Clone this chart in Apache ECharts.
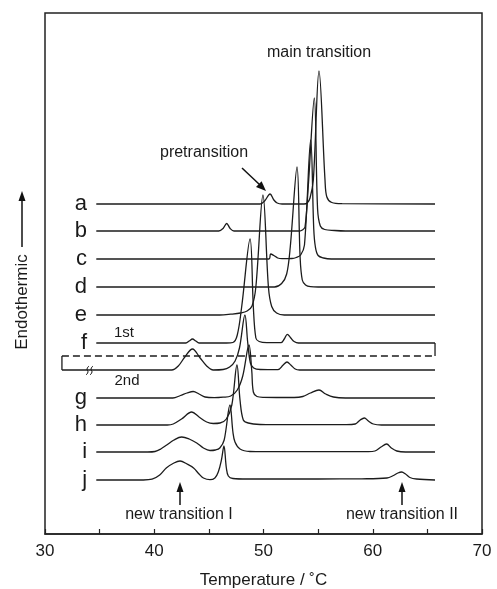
<!DOCTYPE html>
<html>
<head>
<meta charset="utf-8">
<script src="https://cdn.jsdelivr.net/npm/echarts@6/dist/echarts.min.js"></script>
<style>
  html, body { margin: 0; padding: 0; background: #fff; }
  #main { width: 497px; height: 589px; }
</style>
</head>
<body>
<div id="main"></div>
<script>
// x = temperature (°C), y = height above each trace's own baseline (arbitrary units, 1 unit ~ 1 px)
var curveNames = ['a', 'b', 'c', 'd', 'e', 'f', '', 'g', 'h', 'i', 'j'];
// baseline offset of each trace on the stacked plot
var offsets = [330, 303, 275, 247, 219, 191, 164, 136, 109, 82, 54];
var dashLevel = 178;

var curveA = [[34.7,0],[49.7,0],[50.1,3],[50.6,10],[50.95,4],[51.25,1],[51.7,0],[53.7,0],[54.0,1],[54.26,6],[54.56,24],[55.08,133],[55.63,24],[55.8,7],[56.25,1.5],[57.2,0.3],[65.7,0]];
var curveB = [[34.7,0],[45.9,0],[46.3,2.5],[46.63,7.5],[46.95,2.5],[47.3,0],[53.3,0],[53.55,1],[53.8,4],[54.1,45],[54.65,133],[54.95,22],[55.2,5],[55.6,1.5],[56.5,0.5],[57.5,0],[65.7,0]];
var curveC = [[34.7,0],[50.5,0],[50.65,5],[50.95,3.5],[51.3,1],[51.7,0.3],[52.6,0.5],[53.0,1.5],[53.4,4],[53.75,14],[54.32,119],[54.6,30],[54.75,12],[55.0,3.5],[55.5,1],[56.2,0],[65.7,0]];
var curveD = [[34.7,0],[51.0,0],[51.66,3.5],[52.12,13],[52.45,40],[53.07,120],[53.35,30],[53.55,7],[53.85,2],[54.3,0.3],[55,0],[65.7,0]];
var curveE = [[34.7,0],[46.0,0],[47.0,0.8],[47.9,2],[48.5,4],[48.95,9],[49.3,28],[49.95,120],[50.45,28],[50.75,8.5],[51.2,2],[51.9,0],[65.7,0]];
var curveF = [[34.7,0],[42.9,0],[43.2,2],[43.5,4],[43.8,2],[44.1,0],[46.6,0],[47.2,0.5],[47.6,8],[48.0,36],[48.77,104],[49.07,36],[49.3,5],[49.6,1.5],[50.3,0.3],[51.6,0.3],[51.9,4],[52.18,8.7],[52.5,5],[52.8,1.5],[53.2,0],[65.7,0]];
var curveF2 = [[31.55,0],[41.6,0],[42.2,4],[42.8,13],[43.5,21],[44.2,12],[44.8,4],[45.4,0],[46.3,0.5],[46.9,3],[47.4,9],[47.8,22],[48.3,55],[48.55,28],[48.8,7],[49.1,2],[49.7,0.5],[51.3,0.3],[51.8,5],[52.15,8],[52.5,5],[52.9,1],[53.3,0],[65.7,0]];
var curveG = [[34.7,0],[41.7,0],[42.4,2.5],[43.0,5],[43.57,6.5],[44.1,4],[44.65,1],[45.5,0.3],[46.3,0.8],[47.0,2],[47.6,8],[48.1,22],[48.67,53],[48.92,28],[49.07,6],[49.4,1.5],[50.0,0.7],[52.8,0.5],[53.6,1.5],[54.3,5],[55.08,8],[55.7,4],[56.4,1],[57.5,0],[65.7,0]];
var curveH = [[34.7,0],[41.2,0],[41.74,1],[42.5,6],[43.43,13],[44.1,8],[44.8,3],[45.4,1.5],[46.02,2],[46.6,6],[47.1,20],[47.57,60],[47.85,25],[48.15,5],[48.6,2],[49.68,0.5],[51,0.3],[57.6,0.3],[58.4,1],[58.85,5],[59.23,7],[59.6,4],[60.05,1],[60.8,0],[65.7,0]];
var curveI = [[34.7,0],[39.4,0],[40.07,0.5],[40.6,3],[41.14,7],[41.8,12],[42.51,15],[43.2,13],[43.89,9],[44.5,4],[45.1,1.5],[45.6,2],[46.0,4],[46.4,12],[46.93,47],[47.2,20],[47.39,10],[47.85,3],[48.76,0.5],[50,0.3],[59.6,0.3],[60.2,1],[60.75,5],[61.27,8],[61.7,4],[62.2,1],[63,0],[65.7,0]];
var curveJ = [[34.7,0],[39.0,0],[39.8,0.8],[40.5,5],[41.1,12],[41.8,17],[42.36,19],[43.0,16],[43.6,12],[44.1,6],[44.5,2],[45.1,0.3],[45.55,2],[45.86,8],[46.15,20],[46.38,34],[46.6,12],[46.78,4],[47.2,1.5],[48.5,1],[55,1],[59,1.2],[61.3,2],[61.9,4.5],[62.3,7],[62.65,8],[63.0,6],[63.4,2.5],[64.0,1],[65.7,0]];

var curves = [curveA, curveB, curveC, curveD, curveE, curveF, curveF2, curveG, curveH, curveI, curveJ];

var xTicks = [30, 40, 50, 60, 70];

var lineColor = '#1c1c1c';
var fontName = 'Liberation Sans';

var series = curves.map(function (c, k) {
  var off = offsets[k];
  return {
    type: 'line', name: curveNames[k] || '2nd',
    data: c.map(function (p) { return [p[0], off + p[1]]; }),
    smooth: 0.35, showSymbol: false, symbol: 'none',
    lineStyle: { color: lineColor, width: 1.3 },
    silent: true, z: 3
  };
});

// trace letters, placed at the left end of each baseline
var letterData = [];
curves.forEach(function (c, k) {
  if (curveNames[k]) letterData.push({ value: [c[0][0], offsets[k]], name: curveNames[k] });
});
series.push({
  type: 'scatter', data: letterData, symbolSize: 0.5, silent: true,
  itemStyle: { color: lineColor, opacity: 1 },
  label: {
    show: true, position: 'left', distance: 9, formatter: '{b}',
    fontSize: 22, color: '#1a1a1a', opacity: 1, fontFamily: fontName
  },
  z: 5
});

// bracket joining the 1st and 2nd heating runs of f
series.push({
  type: 'line', data: [[65.7, offsets[5]], [65.7, dashLevel]],
  symbol: 'none', lineStyle: { color: lineColor, width: 1.3 }, silent: true
});
series.push({
  type: 'line', data: [[31.55, dashLevel], [65.7, dashLevel]],
  symbol: 'none', lineStyle: { color: lineColor, width: 1.3, type: [7, 4] }, silent: true
});
series.push({
  type: 'line', data: [[31.55, dashLevel], [31.55, offsets[6]]],
  symbol: 'none', lineStyle: { color: lineColor, width: 1.3 }, silent: true
});

var myChart = echarts.init(document.getElementById('main'));

var txt = function (x, y, s, size, extra) {
  var o = {
    type: 'text', x: x, y: y, z: 10,
    style: { text: s, fontSize: size, fontFamily: fontName, fill: '#1a1a1a', align: 'center', verticalAlign: 'middle' }
  };
  if (extra) { for (var k in extra) o[k] = extra[k]; }
  return o;
};
var seg = function (x1, y1, x2, y2) {
  return { type: 'line', z: 10, shape: { x1: x1, y1: y1, x2: x2, y2: y2 }, style: { stroke: '#111', lineWidth: 1.5 } };
};
var head = function (pts) {
  return { type: 'polygon', z: 10, shape: { points: pts }, style: { fill: '#111' } };
};

var option = {
  animation: false,
  backgroundColor: '#fff',
  grid: {
    left: 45, right: 15, top: 13, bottom: 55, containLabel: false, outerBoundsMode: 'none',
    show: true, borderColor: '#222', borderWidth: 1.5
  },
  xAxis: {
    type: 'value', min: 30, max: 70, interval: 5,
    name: 'Temperature / ˚C', nameLocation: 'middle', nameGap: 38,
    nameTextStyle: { fontSize: 17, fontFamily: fontName, color: '#1a1a1a' },
    axisLine: { show: true, lineStyle: { color: '#222', width: 1.5 } },
    axisTick: { show: true, inside: true, length: 5, lineStyle: { color: '#222', width: 1.2 } },
    axisLabel: {
      fontSize: 17, fontFamily: fontName, color: '#1a1a1a', margin: 9,
      formatter: function (v) { return xTicks.indexOf(v) >= 0 ? String(v) : ''; }
    },
    splitLine: { show: false }
  },
  yAxis: {
    type: 'value', min: 0, max: 521,
    axisLine: { show: false }, axisTick: { show: false }, axisLabel: { show: false },
    splitLine: { show: false }
  },
  series: series,
  graphic: [
    txt(319, 53, 'main transition', 16),
    txt(204, 153, 'pretransition', 16),
    seg(242, 168, 260, 185),
    head([[266, 191], [256.0, 187.0], [261.6, 181.2]]),
    txt(124, 333, '1st', 15),
    txt(127, 381, '2nd', 15),
    // break mark on the 2nd-run baseline
    { type: 'polyline', z: 10, shape: { points: [[86, 375], [88, 372], [87, 369], [89, 366]], smooth: 0.5 }, style: { stroke: '#111', lineWidth: 1, fill: null } },
    { type: 'polyline', z: 10, shape: { points: [[90, 375], [92, 372], [91, 369], [93, 366]], smooth: 0.5 }, style: { stroke: '#111', lineWidth: 1, fill: null } },
    txt(179, 515, 'new transition I', 16),
    seg(180, 505, 180, 490),
    head([[180, 482], [176.5, 492], [183.5, 492]]),
    txt(402, 515, 'new transition II', 16),
    seg(402, 505, 402, 490),
    head([[402, 482], [398.5, 492], [405.5, 492]]),
    txt(22, 302, 'Endothermic', 17, { rotation: Math.PI / 2 }),
    seg(22, 247, 22, 200),
    head([[22, 191], [18.5, 201], [25.5, 201]])
  ]
};
myChart.setOption(option);
</script>
</body>
</html>
